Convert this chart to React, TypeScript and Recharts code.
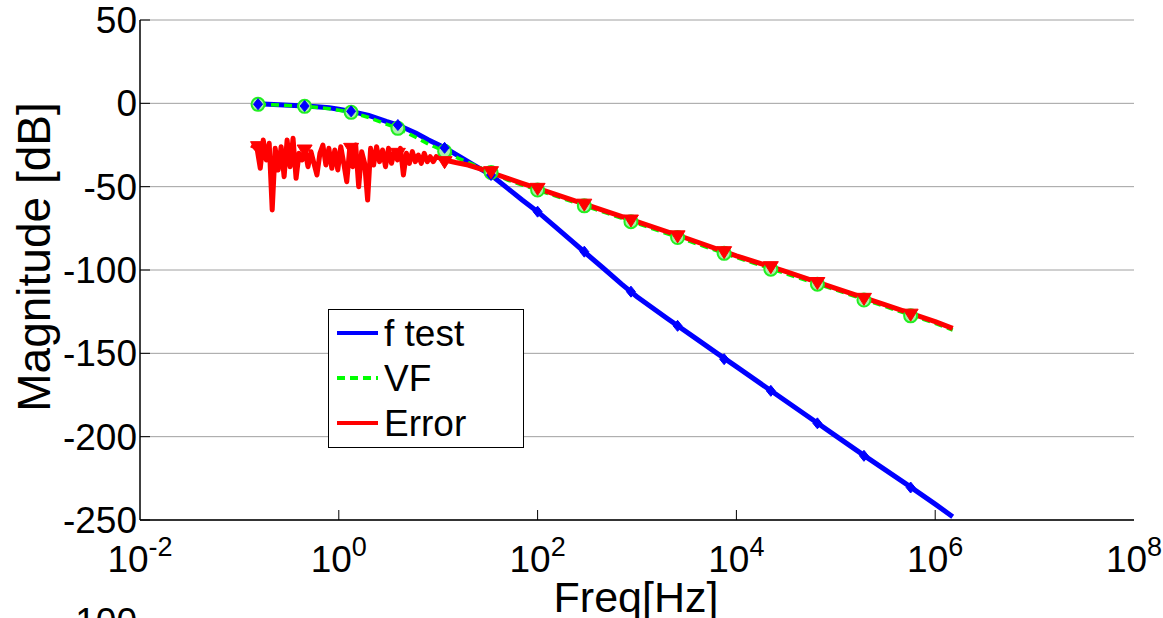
import React from 'react';
import {
  ComposedChart,
  Line,
  Scatter,
  XAxis,
  YAxis,
  CartesianGrid,
  Legend,
} from 'recharts';

const FONT = '"Liberation Sans", Arial, Helvetica, sans-serif';

// frequency axis (Hz) and magnitude axis (dB)
const X_TICKS = [0.01, 1, 100, 1e4, 1e6, 1e8];
const Y_TICKS = [-250, -200, -150, -100, -50, 0, 50];

// f test (blue)
const FTEST_F = [
  0.154, 0.25, 0.4, 0.6, 0.8, 1.0, 1.33, 2.0, 3.0, 3.93, 6, 8, 11.6, 16, 22, 34, 50, 70,
  100, 150, 220, 300, 450, 700, 1000, 2000, 4000, 6400, 1e4, 2e4, 5e4, 1e5, 2e5, 5e5,
  1e6, 1.5e6,
];
const FTEST_DB = [
  -0.3, -0.8, -1.4, -2.0, -2.7, -3.6, -4.8, -7.2, -10.8, -13.0, -18, -22, -26.7, -31.5,
  -36.5, -43, -51, -58, -65, -74, -82.5, -89.5, -98.5, -108.5, -116, -129, -141.5, -150,
  -158, -170.5, -187, -199.5, -212, -228, -240.5, -248,
];

// VF (green dashed)
const VF_F = [
  0.154, 0.25, 0.453, 0.8, 1.33, 2.0, 3.0, 3.93, 6, 8, 11.6, 16, 22, 34, 50, 70, 100,
  1000, 1e4, 1e5, 1e6, 1.5e6,
];
const VF_DB = [
  -0.6, -1.0, -1.8, -3.2, -5.4, -8.5, -12.5, -15, -20.5, -24.5, -28.8, -33, -36.5, -41.5,
  -46, -49, -52, -72, -92.5, -112, -132, -136,
];

// Error (red)
const ERR_F = [
  0.1318, 0.1413, 0.1514, 0.1622, 0.1738, 0.1862, 0.1995, 0.2138, 0.2291, 0.2455, 0.263,
  0.2818, 0.302, 0.3236, 0.3467, 0.3715, 0.3981, 0.4266, 0.4571, 0.4898, 0.5248, 0.5623,
  0.6026, 0.6457, 0.6918, 0.7413, 0.7943, 0.8511, 0.912, 0.9772, 1.047, 1.122, 1.202,
  1.288, 1.38, 1.479, 1.585, 1.698, 1.82, 1.95, 2.089, 2.239, 2.399, 2.57, 2.754, 2.951,
  3.162, 3.388, 3.631, 3.89, 4.169, 4.467, 4.786, 5.129, 5.495, 5.888, 6.31, 6.761, 7.244,
  7.762, 8.318, 8.913, 9.55, 11.6, 15, 20, 27, 34, 50, 70, 100, 200, 500, 1000, 3000, 1e4,
  3e4, 1e5, 3e5, 1e6, 1.5e6,
];
const ERR_DB = [
  -25, -26, -28, -39, -22, -34, -24, -64, -27, -40, -26, -44, -22, -38, -21, -45, -30,
  -34, -28, -38, -29, -36, -43, -30, -25, -37, -27, -39, -28, -40, -26, -36, -47, -27,
  -38, -25, -50, -29, -36, -58, -27, -37, -26, -35, -28, -38, -27, -36, -29, -34, -27,
  -43, -30, -36, -29, -35, -31, -36, -30, -35, -32, -35, -32, -34, -35.5, -37, -39.5,
  -41.5, -45, -48, -51, -57, -65, -71, -80.5, -91.5, -100.5, -111, -120.5, -131, -135,
];

// marker positions (every few samples)
const MARK_F = [
  0.154, 0.453, 1.33, 3.93, 11.6, 34, 100, 295, 869, 2560, 7530, 22200, 65300, 192000,
  566000,
];
const FTEST_MARK = [
  -0.5, -1.6, -4.8, -13, -26.7, -43, -65, -89, -113, -133.5, -153.5, -172.5, -192,
  -211.5, -230.5,
];
const VF_MARK = [
  -0.6, -1.8, -5.4, -15, -28.8, -41.5, -52, -61.5, -71, -80.5, -90, -99.5, -108.5, -118,
  -127.5,
];
const ERR_MARK = [
  -26, -28, -27, -30, -35, -41, -51, -60.5, -70, -79.5, -89, -98, -107.5, -117, -126.5,
];

const toRows = (fs: number[], dbs: number[]) => fs.map((f, i) => ({ f, db: dbs[i] }));

const fTest = toRows(FTEST_F, FTEST_DB);
const vf = toRows(VF_F, VF_DB);
const err = toRows(ERR_F, ERR_DB);
const fTestMarks = toRows(MARK_F, FTEST_MARK);
const vfMarks = toRows(MARK_F, VF_MARK);
const errMarks = toRows(MARK_F, ERR_MARK);

const LEGEND = [
  { name: 'f test', color: '#0000ff', dash: undefined },
  { name: 'VF', color: '#00ff00', dash: '8 5' },
  { name: 'Error', color: '#ff0000', dash: undefined },
];

const PLOT = { left: 140, right: 1134, top: 20, bottom: 520 };

const BottomTick = (props: any) => {
  const { x, payload } = props;
  const exp = Math.round(Math.log10(payload.value));
  const inner = x > PLOT.left + 2 && x < PLOT.right - 2;
  return (
    <g>
      {inner && <line x1={x} x2={x} y1={PLOT.bottom} y2={PLOT.bottom - 10} stroke="#000" />}
      <text x={x} y={572} textAnchor="middle" fontFamily={FONT} fontSize={37} fill="#000">
        <tspan>10</tspan>
        <tspan dy={-16} fontSize={27}>
          {exp}
        </tspan>
      </text>
    </g>
  );
};

const TopTick = (props: any) => {
  const { x } = props;
  if (x <= PLOT.left + 2 || x >= PLOT.right - 2) return <g />;
  return <line x1={x} x2={x} y1={PLOT.top} y2={PLOT.top + 10} stroke="#000" />;
};

const LeftTick = (props: any) => {
  const { y, payload } = props;
  return (
    <g>
      <line x1={PLOT.left} x2={PLOT.left + 10} y1={y} y2={y} stroke="#000" />
      <text x={137} y={y + 13} textAnchor="end" fontFamily={FONT} fontSize={37} fill="#000">
        {payload.value}
      </text>
    </g>
  );
};

const RightTick = (props: any) => {
  const { y } = props;
  return <line x1={PLOT.right} x2={PLOT.right - 10} y1={y} y2={y} stroke="#000" />;
};

const YTitle = () => (
  <text
    x={50}
    y={257}
    transform="rotate(-90 50 257)"
    textAnchor="middle"
    fontFamily={FONT}
    fontSize={46}
    fill="#000"
  >
    Magnitude [dB]
  </text>
);

const XTitle = () => (
  <text x={636} y={612} textAnchor="middle" fontFamily={FONT} fontSize={43} fill="#000">
    Freq[Hz]
  </text>
);

const Diamond = (props: any) => {
  const { cx, cy } = props;
  return (
    <path
      d={`M${cx},${cy - 5.5} L${cx + 4.5},${cy} L${cx},${cy + 5.5} L${cx - 4.5},${cy} Z`}
      fill="#0000ff"
      stroke="#0000ff"
    />
  );
};

const Ring = (props: any) => {
  const { cx, cy } = props;
  return <circle cx={cx} cy={cy} r={6.5} fill="#a8f0a8" stroke="#22ee22" strokeWidth={2} />;
};

const DownTriangle = (props: any) => {
  const { cx, cy } = props;
  return (
    <path
      d={`M${cx - 7.5},${cy - 5} L${cx + 7.5},${cy - 5} L${cx},${cy + 7} Z`}
      fill="#ff0000"
      stroke="#ff0000"
    />
  );
};

const renderLegend = () => (
  <svg width={196} height={139} style={{ display: 'block' }}>
    <rect x={0.5} y={0.5} width={195} height={138} fill="#fff" stroke="#000" strokeWidth={1} />
    {LEGEND.map((s, i) => {
      const cy = 24 + i * 45;
      return (
        <g key={s.name}>
          <line
            x1={9}
            x2={50}
            y1={cy}
            y2={cy}
            stroke={s.color}
            strokeWidth={4}
            strokeDasharray={s.dash}
          />
          <text x={56} y={cy + 13} fontFamily={FONT} fontSize={37} fill="#000">
            {s.name}
          </text>
        </g>
      );
    })}
  </svg>
);

export default function App() {
  return (
    <div
      style={{
        position: 'absolute',
        left: 0,
        top: 0,
        width: 1163,
        height: 618,
        overflow: 'hidden',
        background: '#fff',
      }}
    >
      <ComposedChart width={1163} height={618} margin={{ top: 20, right: 29, bottom: 38, left: 0 }}>
        <CartesianGrid vertical={false} stroke="#a0a0a0" />
        <XAxis
          type="number"
          dataKey="f"
          scale="log"
          domain={[0.01, 1e8]}
          ticks={X_TICKS}
          interval={0}
          allowDataOverflow
          height={60}
          tickLine={false}
          tick={<BottomTick />}
          axisLine={{ stroke: '#000', strokeWidth: 1.5 }}
          label={<XTitle />}
        />
        <XAxis
          xAxisId="top"
          orientation="top"
          type="number"
          dataKey="f"
          scale="log"
          domain={[0.01, 1e8]}
          ticks={X_TICKS}
          interval={0}
          allowDataOverflow
          height={0}
          tickLine={false}
          tick={<TopTick />}
          axisLine={{ stroke: '#000', strokeWidth: 1.5 }}
        />
        <YAxis
          type="number"
          domain={[-250, 50]}
          ticks={Y_TICKS}
          interval={0}
          allowDataOverflow
          width={140}
          tickLine={false}
          tick={<LeftTick />}
          axisLine={{ stroke: '#000', strokeWidth: 1.5 }}
          label={<YTitle />}
        />
        <YAxis
          yAxisId="right"
          orientation="right"
          type="number"
          domain={[-250, 50]}
          ticks={Y_TICKS}
          interval={0}
          allowDataOverflow
          width={0}
          tickLine={false}
          tick={<RightTick />}
          axisLine={{ stroke: '#000', strokeWidth: 1.5 }}
        />
        <Legend
          layout="horizontal"
          verticalAlign="middle"
          align="center"
          content={renderLegend}
          wrapperStyle={{ left: 328, top: 309, width: 196, height: 139 }}
        />
        <Line
          data={fTest}
          dataKey="db"
          name="f test"
          stroke="#0000ff"
          strokeWidth={5}
          dot={false}
          activeDot={false}
          isAnimationActive={false}
        />
        <Line
          data={vf}
          dataKey="db"
          name="VF"
          stroke="#00ff00"
          strokeWidth={3.5}
          strokeDasharray="8 5"
          dot={false}
          activeDot={false}
          isAnimationActive={false}
        />
        <Line
          data={err}
          dataKey="db"
          name="Error"
          stroke="#ff0000"
          strokeWidth={5}
          strokeLinejoin="round"
          dot={false}
          activeDot={false}
          isAnimationActive={false}
        />
        <Scatter data={vfMarks} dataKey="db" shape={Ring} legendType="none" isAnimationActive={false} />
        <Scatter data={fTestMarks} dataKey="db" shape={Diamond} legendType="none" isAnimationActive={false} />
        <Scatter data={errMarks} dataKey="db" shape={DownTriangle} legendType="none" isAnimationActive={false} />
      </ComposedChart>
      <svg
        width={1163}
        height={618}
        style={{ position: 'absolute', left: 0, top: 0, pointerEvents: 'none' }}
      >
        <text x={137} y={634} textAnchor="end" fontFamily={FONT} fontSize={37} fill="#000">
          -100
        </text>
      </svg>
    </div>
  );
}
